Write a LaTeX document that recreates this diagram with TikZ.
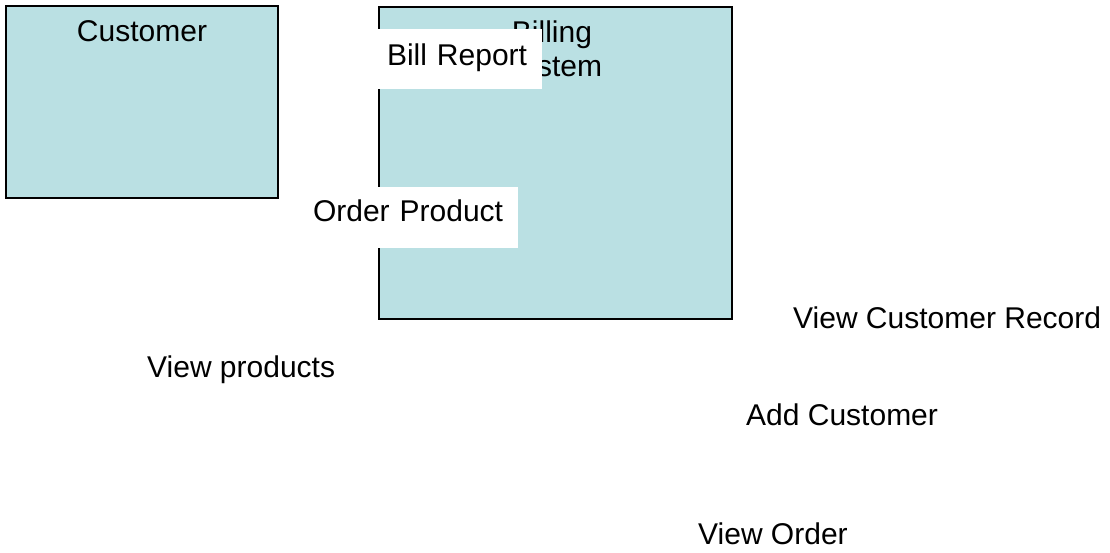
\documentclass[tikz,border=0pt]{standalone}
\usepackage{fontspec}
\setmainfont{Liberation Sans}
\definecolor{boxfill}{RGB}{186,224,227}
\begin{document}
\begin{tikzpicture}[x=1pt,y=-1pt,
  every node/.style={font=\fontsize{30}{34}\selectfont, inner sep=0pt},
  entity/.style={draw=black, line width=2pt, fill=boxfill},
  flowlabel/.style={fill=white, text height=22pt, align=left, inner xsep=10pt, inner ysep=0pt},
  plain/.style={anchor=base west}]
\useasboundingbox (0,0) rectangle (1110,553);
\node[entity, minimum width=272pt, minimum height=192pt] (customer) at (142,102) {};
\node[anchor=base] (customertext) at (142,42) {Customer};
\node[entity, minimum width=353.5pt, minimum height=312pt] (billing) at (555.25,163) {};
\node[anchor=north, align=center] (billingtext) at (552,21) {Billing\\System};
\node[flowlabel, text width=145pt, minimum height=60pt, text depth=8pt] (billreport) at (459.5,59) {Bill Report};
\node[flowlabel, text width=195pt, minimum height=61pt, text depth=13pt] (orderproduct) at (410.5,217.5) {Order Product};
\node[plain] (viewcustomerrecord) at (793,328) {View Customer Record};
\node[plain] (viewproducts) at (147,377) {View products};
\node[plain] (addcustomer) at (746,425) {Add Customer};
\node[plain] (vieworder) at (698,544) {View Order};
\end{tikzpicture}
\end{document}
